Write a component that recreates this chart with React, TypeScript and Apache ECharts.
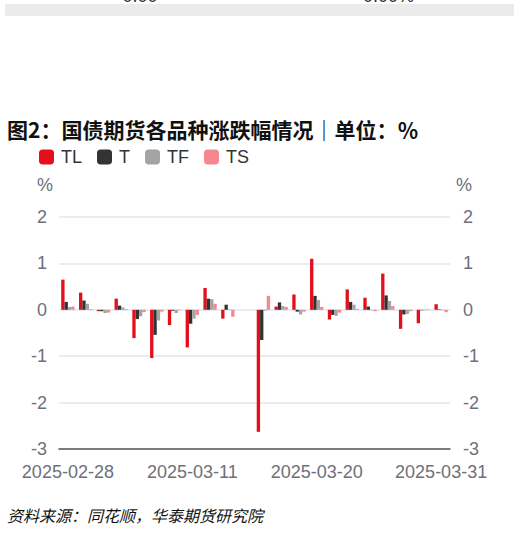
import React, { useEffect, useRef } from "react";
import * as echarts from "echarts";

const dates = [
  "2025-02-28", "2025-03-03", "2025-03-04", "2025-03-05", "2025-03-06", "2025-03-07",
  "2025-03-10", "2025-03-11", "2025-03-12", "2025-03-13", "2025-03-14", "2025-03-17",
  "2025-03-18", "2025-03-19", "2025-03-20", "2025-03-21", "2025-03-24", "2025-03-25",
  "2025-03-26", "2025-03-27", "2025-03-28", "2025-03-31",
];

const tlValues = [0.65, 0.37, -0.03, 0.24, -0.61, -1.04, -0.33, -0.81, 0.47, -0.19, null, -2.63, 0.07, 0.33, 1.1, -0.21, 0.44, 0.26, 0.78, -0.41, -0.29, 0.12];
const tValues = [0.17, 0.2, -0.03, 0.09, -0.2, -0.54, -0.02, -0.3, 0.24, 0.11, null, -0.65, 0.16, -0.04, 0.3, -0.11, 0.17, 0.07, 0.31, -0.1, -0.01, 0.01];
const tfValues = [0.06, 0.13, -0.07, 0.05, -0.14, -0.23, -0.07, -0.19, 0.23, 0.01, null, -0.02, 0.08, -0.1, 0.21, -0.13, 0.11, -0.01, 0.19, -0.09, -0.01, -0.01];
const tsValues = [0.07, 0.015, -0.06, 0.015, -0.05, -0.04, -0.01, -0.11, 0.13, -0.15, null, 0.3, 0.06, -0.04, 0.06, -0.06, 0.02, -0.03, 0.08, -0.03, 0.01, -0.05];

const seriesNames = ["TL", "T", "TF", "TS"];
const seriesColors = ["#e3101c", "#333333", "#a4a4a4", "#f4878f"];

const title = "图2：国债期货各品种涨跌幅情况｜单位：％";
const source = "资料来源：同花顺，华泰期货研究院";

const latin = '"Liberation Sans", Arial, sans-serif';
const cjk = '"Noto Sans CJK SC", sans-serif';

const App = () => {
  const chartRef = useRef(null);

  useEffect(() => {
    if (!chartRef.current) return;
    const chart = echarts.init(chartRef.current, null, { renderer: "svg" });

    const allValues = [tlValues, tValues, tfValues, tsValues];
    const axisLabel = { color: "#6e7079", fontSize: 18, fontFamily: latin };

    chart.setOption({
      animation: false,
      textStyle: { fontFamily: latin },
      grid: { left: 59, right: 69, top: 217, bottom: 86 },
      legend: {
        left: 34,
        top: 143,
        icon: "roundRect",
        itemWidth: 15,
        itemHeight: 15,
        itemGap: 15,
        textStyle: { fontSize: 18, color: "#333", padding: [0, 0, 0, 2], fontFamily: latin },
        data: seriesNames,
      },
      xAxis: {
        type: "category",
        data: dates,
        axisLine: { onZero: false, lineStyle: { color: "#555", width: 1.5 } },
        axisTick: { inside: true, length: 6, interval: 6, lineStyle: { color: "#555", width: 1.5 } },
        axisLabel: { ...axisLabel, interval: 6, margin: 14 },
      },
      yAxis: [
        {
          type: "value",
          min: -3,
          max: 2,
          interval: 1,
          axisLabel: { ...axisLabel, margin: 12 },
          splitLine: { lineStyle: { color: "#e0e6f1", width: 1.5 } },
        },
        {
          type: "value",
          position: "right",
          min: -3,
          max: 2,
          interval: 1,
          axisLabel: { ...axisLabel, margin: 13 },
          splitLine: { show: false },
        },
      ],
      series: seriesNames.map((name, i) => ({
        name,
        type: "bar",
        data: allValues[i],
        itemStyle: { color: seriesColors[i] },
        barGap: "0%",
        barCategoryGap: "25%",
      })),
      graphic: [
        { type: "rect", shape: { x: 5, y: 4, width: 509, height: 12 }, style: { fill: "#ebebeb" }, silent: true },
        { type: "text", x: 112, y: 5, style: { text: "+0.00", fill: "#333", font: `18px ${latin}`, textAlign: "left", textVerticalAlign: "bottom" } },
        { type: "text", x: 363, y: 5, style: { text: "0.00%", fill: "#333", font: `18px ${latin}`, textAlign: "left", textVerticalAlign: "bottom" } },
        { type: "text", x: 7, y: 129, style: { text: title, fill: "#111", font: `bold 21px ${cjk}`, textAlign: "left", textVerticalAlign: "middle" } },
        { type: "text", x: 45, y: 185, style: { text: "%", fill: "#6e7079", font: `18px ${latin}`, textAlign: "center", textVerticalAlign: "middle" } },
        { type: "text", x: 464, y: 185, style: { text: "%", fill: "#6e7079", font: `18px ${latin}`, textAlign: "center", textVerticalAlign: "middle" } },
        { type: "text", x: 7, y: 515, style: { text: source, fill: "#111", font: `italic 16px ${cjk}`, textAlign: "left", textVerticalAlign: "middle" } },
      ],
    });

    return () => chart.dispose();
  }, []);

  return (
    <div
      ref={chartRef}
      style={{ position: "fixed", left: 0, top: 0, width: "519px", height: "535px", background: "#fff" }}
    />
  );
};

export default App;
